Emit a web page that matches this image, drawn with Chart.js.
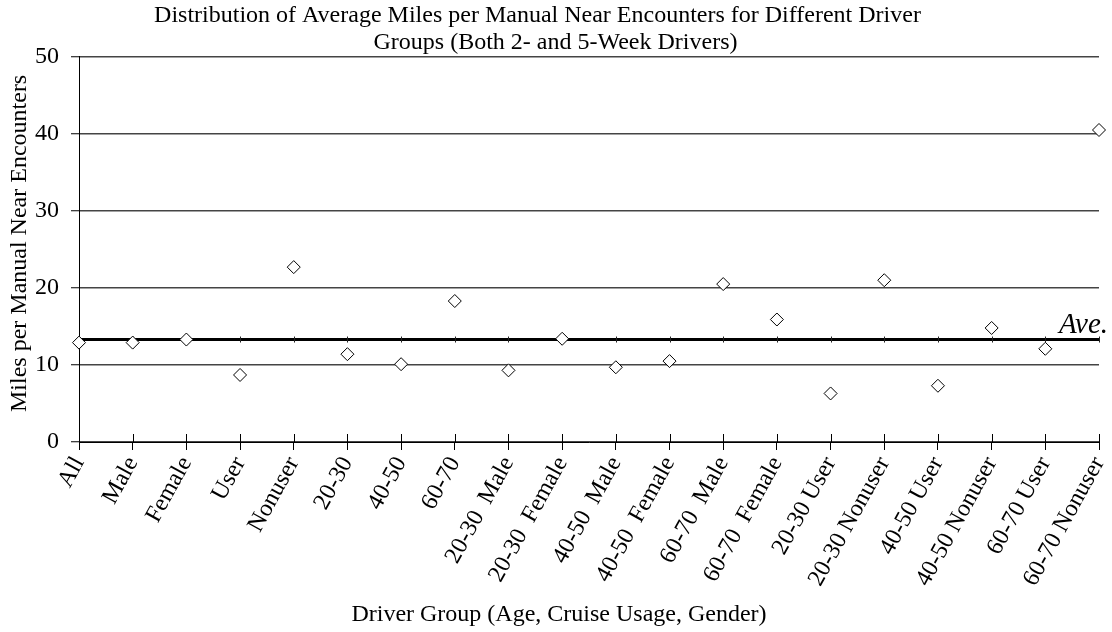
<!DOCTYPE html>
<html>
<head>
<meta charset="utf-8">
<script src="https://cdn.jsdelivr.net/npm/chart.js@4.4.0/dist/chart.umd.min.js"></script>
<style>
  html, body { margin: 0; padding: 0; background: #fff; }
  #wrap { width: 1112px; height: 632px; }
</style>
</head>
<body>
<div id="wrap"><canvas id="chart" width="1112" height="632"></canvas></div>
<script>
// Driver groups along the x axis
const groups = [
  'All', 'Male', 'Female', 'User', 'Nonuser',
  '20-30', '40-50', '60-70',
  '20-30  Male', '20-30  Female', '40-50  Male', '40-50  Female',
  '60-70  Male', '60-70  Female',
  '20-30 User', '20-30 Nonuser', '40-50 User', '40-50 Nonuser',
  '60-70 User', '60-70 Nonuser'
];

// Average miles per manual near encounter
const milesPerEncounter = [
  12.9, 12.9, 13.3, 8.7, 22.7,
  11.4, 10.1, 18.3,
  9.3, 13.4, 9.7, 10.5,
  20.5, 15.9,
  6.3, 21.0, 7.3, 14.8,
  12.1, 40.5
];

// Overall average (thick line)
const aveValue = 13.3;
const aveLabel = 'Ave.';

// Y axis
const yMin = 0;
const yMax = 50;
const yStep = 10;

const serif = "'Liberation Serif', 'Times New Roman', serif";

// Thick average line, drawn under the markers, plus its label
const avePlugin = {
  id: 'aveLine',
  beforeDatasetsDraw(chart) {
    const { ctx, chartArea, scales } = chart;
    const y = scales.y.getPixelForValue(aveValue);
    ctx.save();
    ctx.strokeStyle = '#000';
    ctx.lineWidth = 3;
    ctx.beginPath();
    ctx.moveTo(chartArea.left, y);
    ctx.lineTo(chartArea.right, y);
    ctx.stroke();

    // little marks on the line at every group
    ctx.lineWidth = 1;
    ctx.strokeStyle = '#222';
    ctx.beginPath();
    scales.x.ticks.forEach((t, i) => {
      const x = Math.round(scales.x.getPixelForTick(i)) + 0.5;
      ctx.moveTo(x, y - 3);
      ctx.lineTo(x, y + 3);
    });
    ctx.stroke();

    ctx.fillStyle = '#000';
    ctx.font = 'italic 29px ' + serif;
    ctx.textAlign = 'right';
    ctx.textBaseline = 'alphabetic';
    ctx.fillText(aveLabel, chartArea.right + 9, y - 7);
    ctx.restore();
  },
  // x ticks cross the axis: draw the part above it
  afterDraw(chart) {
    const { ctx, chartArea, scales } = chart;
    ctx.save();
    ctx.strokeStyle = '#000';
    ctx.lineWidth = 1;
    ctx.beginPath();
    scales.x.ticks.forEach((t, i) => {
      const x = Math.round(scales.x.getPixelForTick(i)) + 0.5;
      ctx.moveTo(x, chartArea.bottom);
      ctx.lineTo(x, chartArea.bottom - 8);
    });
    ctx.stroke();
    ctx.restore();
  }
};

Chart.defaults.font.family = serif;
Chart.defaults.color = '#000';

const chart = new Chart(document.getElementById('chart'), {
  type: 'line',
  data: {
    labels: groups,
    datasets: [{
      label: 'Miles per Manual Near Encounters',
      data: milesPerEncounter,
      showLine: false,
      pointStyle: 'rectRot',
      pointRadius: 6.5,
      pointBackgroundColor: '#fff',
      pointBorderColor: '#000',
      pointBorderWidth: 1,
      clip: false
    }]
  },
  options: {
    responsive: false,
    animation: false,
    layout: { padding: { left: 0, right: 13, top: 0, bottom: 0 } },
    plugins: {
      legend: { display: false },
      tooltip: { enabled: false },
      title: {
        display: true,
        // spaces nudge the lines off centre, as in the original
        text: [
          'Distribution of Average Miles per Manual Near Encounters for Different Driver    ',
          '  Groups (Both 2- and 5-Week Drivers)'
        ],
        color: '#000',
        font: { family: serif, size: 24, weight: 'normal', lineHeight: 1.1 },
        padding: { top: 3, bottom: 1 }
      }
    },
    scales: {
      x: {
        type: 'category',
        offset: false,
        grid: {
          display: true,
          drawOnChartArea: false,
          drawTicks: true,
          tickLength: 8,
          color: '#000',
          lineWidth: 1
        },
        border: { display: true, color: '#000', width: 1 },
        ticks: {
          autoSkip: false,
          minRotation: 61,
          maxRotation: 61,
          padding: 2,
          color: '#000',
          font: { family: serif, size: 24 }
        },
        title: {
          display: true,
          text: 'Driver Group (Age, Cruise Usage, Gender)          ',
          color: '#000',
          font: { family: serif, size: 24, lineHeight: 1.2 },
          padding: { top: 0, bottom: 3 }
        },
        afterFit(scale) {
          scale.height = 190;
          scale.paddingLeft = 0;
          scale.paddingRight = 0;
        }
      },
      y: {
        min: yMin,
        max: yMax,
        grid: {
          color: '#444',
          lineWidth: 1.5,
          drawTicks: true,
          tickLength: 8,
          tickColor: '#000',
          tickWidth: 1
        },
        border: { display: true, color: '#000', width: 1 },
        ticks: {
          stepSize: yStep,
          padding: 12,
          color: '#000',
          font: { family: serif, size: 24 }
        },
        title: {
          display: true,
          text: '  Miles per Manual Near Encounters',
          color: '#000',
          font: { family: serif, size: 24, lineHeight: 1.2 },
          padding: { top: 5, bottom: 0 }
        },
        afterFit(scale) { scale.width = 79; }
      }
    }
  },
  plugins: [avePlugin]
});
</script>
</body>
</html>
